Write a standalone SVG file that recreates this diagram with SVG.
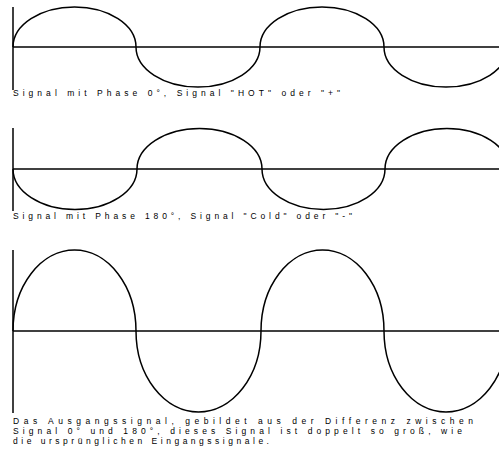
<svg xmlns="http://www.w3.org/2000/svg" width="499" height="455" viewBox="0 0 499 455">
<style>
.ax{stroke:#000;stroke-width:1.5;fill:none}
.wv{stroke:#000;stroke-width:1.5;fill:none}
.t{font-family:"Liberation Sans",Arial,sans-serif;font-size:8.5px;fill:#000}
</style>
<rect width="499" height="455" fill="#fff"/>
<g id="panel1">
<line class="ax" x1="13" y1="7" x2="13" y2="90"/>
<line class="ax" x1="13" y1="47" x2="499" y2="47"/>
<path class="wv" d="M13,47 A61.5,40 0 0 1 136,47 A62,40 0 0 0 260,47 A62,40 0 0 1 384,47 A62,40 0 0 0 508,47"/>
<text class="t" x="13" y="95.5" textLength="327" lengthAdjust="spacing">Signal mit Phase 0°, Signal "HOT" oder "+"</text>
</g>
<g id="panel2">
<line class="ax" x1="13" y1="128" x2="13" y2="211"/>
<line class="ax" x1="13" y1="169" x2="499" y2="169"/>
<path class="wv" d="M13,169 A62,40.5 0 0 0 137,169 A62.5,40.5 0 0 1 262,169 A61.5,40.5 0 0 0 385,169 A62,40.5 0 0 1 509,169"/>
<text class="t" x="13" y="218.5" textLength="339" lengthAdjust="spacing">Signal mit Phase 180°, Signal "Cold" oder "-"</text>
</g>
<g id="panel3">
<line class="ax" x1="13" y1="250" x2="13" y2="413"/>
<line class="ax" x1="13" y1="331" x2="499" y2="331"/>
<path class="wv" d="M13,331 A61.5,81 0 0 1 136,331 A62.5,81 0 0 0 261,331 A61.5,81 0 0 1 384,331 A62,81 0 0 0 508,331"/>
<text class="t" x="13" y="424" textLength="460" lengthAdjust="spacing">Das Ausgangssignal, gebildet aus der Differenz zwischen</text>
<text class="t" x="13" y="434" textLength="449" lengthAdjust="spacing">Signal 0° und 180°, dieses Signal ist doppelt so groß, wie</text>
<text class="t" x="13" y="444" textLength="256" lengthAdjust="spacing">die ursprünglichen Eingangssignale.</text>
</g>
</svg>
